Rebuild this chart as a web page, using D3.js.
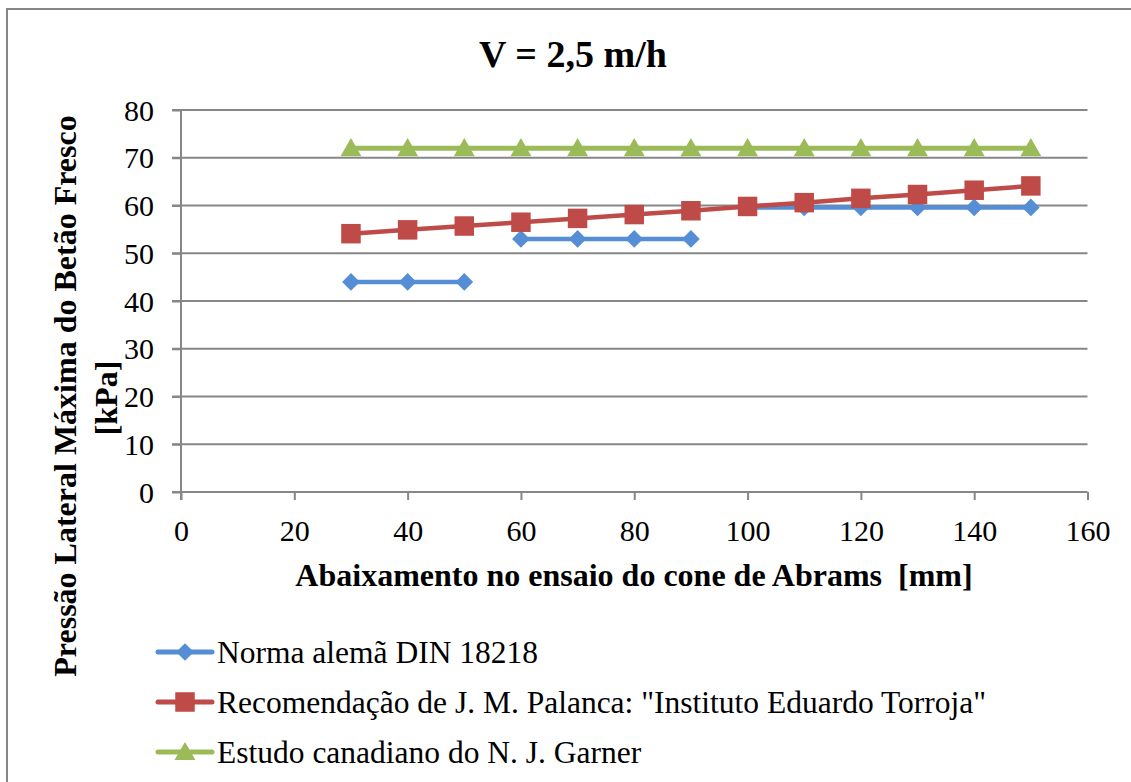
<!DOCTYPE html>
<html><head><meta charset="utf-8">
<script src="https://cdn.jsdelivr.net/npm/d3@7"></script>
<style>
html,body{margin:0;padding:0;background:#fff;}
svg{display:block;}
svg text{font-family:"Liberation Serif","Tinos","Times New Roman","DejaVu Serif",serif !important;}
</style></head>
<body>
<svg id="chart" width="1131" height="782"></svg>
<script>
const xValues = [30, 40, 50, 60, 70, 80, 90, 100, 110, 120, 130, 140, 150];
const dinValues = [44, 44, 44, null, 53, 53, 53, 53, null, 59.6, 59.6, 59.6, 59.6, 59.6, 59.6];
const dinX = [30, 40, 50, 55, 60, 70, 80, 90, 95, 100, 110, 120, 130, 140, 150];
const palancaValues = [54.1, 54.9, 55.7, 56.5, 57.3, 58.1, 58.9, 59.8, 60.6, 61.5, 62.3, 63.2, 64.1];
const garnerValues = [72, 72, 72, 72, 72, 72, 72, 72, 72, 72, 72, 72, 72];
const xTicks = [0, 20, 40, 60, 80, 100, 120, 140, 160];
const yTicks = [0, 10, 20, 30, 40, 50, 60, 70, 80];
const seriesNames = ["Norma alemã DIN 18218", "Recomendação de J. M. Palanca: \"Instituto Eduardo Torroja\"", "Estudo canadiano do N. J. Garner"];
const colors = ["#558ED5", "#BE4B48", "#9BBB59"];
const titleText = "V = 2,5 m/h";
const xTitle = "Abaixamento no ensaio do cone de Abrams  [mm]";
const yTitle1 = "Pressão Lateral Máxima do Betão Fresco";
const yTitle2 = "[kPa]";

const svg = d3.select("#chart");
const grid = "#878787";

svg.append("rect").attr("x", 7).attr("y", 9).attr("width", 1140).attr("height", 800)
  .attr("fill", "#fff").attr("stroke", grid).attr("stroke-width", 2);

const x = d3.scaleLinear().domain([0, 160]).range([181, 1087.5]);
const y = d3.scaleLinear().domain([0, 80]).range([492, 110]);

// gridlines
svg.append("g").selectAll("line").data(yTicks.filter(d => d > 0)).join("line")
  .attr("x1", 172).attr("x2", x(160)).attr("y1", d => y(d)).attr("y2", d => y(d))
  .attr("stroke", grid).attr("stroke-width", 2);

// y axis
const gy = svg.append("g").attr("transform", `translate(${x(0)},0)`)
  .call(d3.axisLeft(y).tickValues(yTicks).tickSize(9).tickPadding(18).tickSizeOuter(0));
gy.attr("font-family", null);
gy.select(".domain").attr("stroke", grid).attr("stroke-width", 2).attr("d", `M0,${y(0)+8}V${y(80)}`);
gy.selectAll(".tick line").attr("stroke", grid).attr("stroke-width", 2);
gy.selectAll(".tick text").attr("font-size", 30).attr("fill", "#000").attr("dy", "0.34em");

// x axis
const gx = svg.append("g").attr("transform", `translate(0,${y(0)})`)
  .call(d3.axisBottom(x).tickValues(xTicks).tickSize(8).tickPadding(20).tickSizeOuter(0));
gx.attr("font-family", null);
gx.select(".domain").attr("stroke", grid).attr("stroke-width", 2).attr("d", `M${x(0)-9},0H${x(160)}`);
gx.selectAll(".tick line").attr("stroke", grid).attr("stroke-width", 2);
gx.selectAll(".tick text").attr("font-size", 30).attr("fill", "#000").attr("dy", "0.71em");

// title
svg.append("text").attr("x", 573).attr("y", 67).attr("text-anchor", "middle")
  .attr("font-size", 38).attr("font-weight", "bold").text(titleText);

// axis titles
svg.append("text").attr("x", 634).attr("y", 586).attr("text-anchor", "middle")
  .style("white-space", "pre").attr("xml:space", "preserve")
  .attr("font-size", 32).attr("font-weight", "bold").text(xTitle);
svg.append("text").attr("transform", "translate(76,396) rotate(-90)").attr("text-anchor", "middle")
  .attr("font-size", 32).attr("font-weight", "bold").text(yTitle1);
svg.append("text").attr("transform", "translate(117,398) rotate(-90)").attr("text-anchor", "middle")
  .attr("font-size", 32).attr("font-weight", "bold").text(yTitle2);

// series
const line = d3.line().defined(d => d[1] != null).x(d => x(d[0])).y(d => y(d[1]));
const dinData = dinX.map((v, i) => [v, dinValues[i]]);
const palData = xValues.map((v, i) => [v, palancaValues[i]]);
const garData = xValues.map((v, i) => [v, garnerValues[i]]);
const allSeries = [dinData, palData, garData];
const symbols = [
  d3.symbol().type(d3.symbolDiamond2).size(200),
  d3.symbol().type(d3.symbolSquare).size(380),
  d3.symbol().type(d3.symbolTriangle).size(190)
];

allSeries.forEach((data, i) => {
  svg.append("path").datum(data).attr("d", line).attr("fill", "none")
    .attr("stroke", colors[i]).attr("stroke-width", i === 2 ? 5 : 4.5).attr("stroke-linejoin", "round");
});
allSeries.forEach((data, i) => {
  svg.append("g").selectAll("path").data(data.filter(d => d[1] != null)).join("path")
    .attr("d", symbols[i]).attr("fill", colors[i])
    .attr("transform", d => `translate(${x(d[0])},${y(d[1]) + (i === 2 ? 2 : 0)})`);
});

// legend
const legendY = [652, 702, 752];
seriesNames.forEach((name, i) => {
  const g = svg.append("g").attr("transform", `translate(0,${legendY[i]})`);
  g.append("line").attr("x1", 158).attr("x2", 212).attr("y1", 0).attr("y2", 0)
    .attr("stroke", colors[i]).attr("stroke-width", 5).attr("stroke-linecap", "round");
  g.append("path").attr("d", symbols[i]).attr("fill", colors[i])
    .attr("transform", `translate(185,${i === 2 ? 2 : 0})`);
  g.append("text").attr("x", 217).attr("y", 11).attr("font-size", 31.5).attr("fill", "#000").text(name);
});
</script>
</body></html>
